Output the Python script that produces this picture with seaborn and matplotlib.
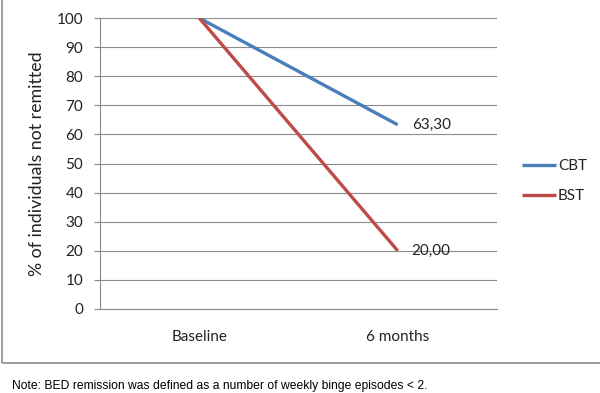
import matplotlib
matplotlib.use("Agg")
import matplotlib.pyplot as plt
import seaborn as sns
import pandas as pd
from matplotlib.patches import Rectangle

categories = ["Baseline", "6 months"]
cbt = [100.0, 63.3]
bst = [100.0, 20.0]
series_names = ["CBT", "BST"]
cbt_label = "63,30"
bst_label = "20,00"
y_ticks = [0, 10, 20, 30, 40, 50, 60, 70, 80, 90, 100]
note = "Note: BED remission was defined as a number of weekly binge episodes < 2."

sns.set_theme(style="white")
plt.rcParams['font.family'] = ['Lato', 'DejaVu Sans']

df = pd.DataFrame({
    "x": list(range(len(categories))) * 2,
    "value": cbt + bst,
    "series": [series_names[0]] * len(cbt) + [series_names[1]] * len(bst),
})

fig = plt.figure(figsize=(6.0, 3.93), dpi=100)
ax = fig.add_axes([100/600, 1-309/393, 397/600, 291/393])

palette = {"CBT": "#4A7EBB", "BST": "#BE4B48"}
sns.lineplot(data=df, x="x", y="value", hue="series", palette=palette,
             linewidth=2.4, ax=ax, legend=True, solid_capstyle="butt")

fs = 11
ax.set_xlim(-0.5, len(categories) - 0.5)
ax.set_ylim(0, 100)
ax.set_yticks(y_ticks)
ax.set_yticklabels([str(t) for t in y_ticks], fontsize=fs, color="#222222")
ax.set_xticks(range(len(categories)))
ax.set_xticklabels(categories, fontsize=fs, color="#222222")
ax.set_xticks([i - 0.5 for i in range(len(categories) + 1)], minor=True)
ax.tick_params(axis="x", which="major", length=0, pad=15)
ax.tick_params(axis="x", which="minor", length=4, color="#888888", width=0.8)
ax.tick_params(axis="y", which="major", length=4, color="#888888", width=0.8, pad=8, left=True)
ax.set_xlabel("")
ax.set_ylabel("% of individuals not remitted", fontsize=12.8, color="#222222")
ax.yaxis.set_label_coords(-55/397, 0.5)
ax.yaxis.grid(True, color="#8C8C8C", linewidth=0.8)
ax.set_axisbelow(True)
for s in ["top", "right"]:
    ax.spines[s].set_visible(False)
for s in ["left", "bottom"]:
    ax.spines[s].set_color("#888888")
    ax.spines[s].set_linewidth(0.8)

ax.annotate(cbt_label, xy=(1, cbt[1]), xytext=(10, 0), textcoords="offset points",
            va="center", ha="left", fontsize=fs, color="#222222")
ax.annotate(bst_label, xy=(1, bst[1]), xytext=(10, 0), textcoords="offset points",
            va="center", ha="left", fontsize=fs, color="#222222")

leg = ax.legend(loc="center left", bbox_to_anchor=(1.063, 0.44), frameon=False,
                fontsize=fs, handlelength=2.2, handletextpad=0.15, labelspacing=1.05,
                borderaxespad=0, borderpad=0)
for h in leg.get_lines():
    h.set_linewidth(2.4)

fig.patches.append(Rectangle((2/600, 1-363/393), 1.0, 1.0, transform=fig.transFigure,
                             fill=False, edgecolor="#8C8C8C", linewidth=1.2))
fig.text(12/600, 1-386/393, note, fontsize=8.7, family=["Liberation Sans", "DejaVu Sans"],
         va="center", ha="left", color="#000000")

fig.savefig("out.png", dpi=100)
